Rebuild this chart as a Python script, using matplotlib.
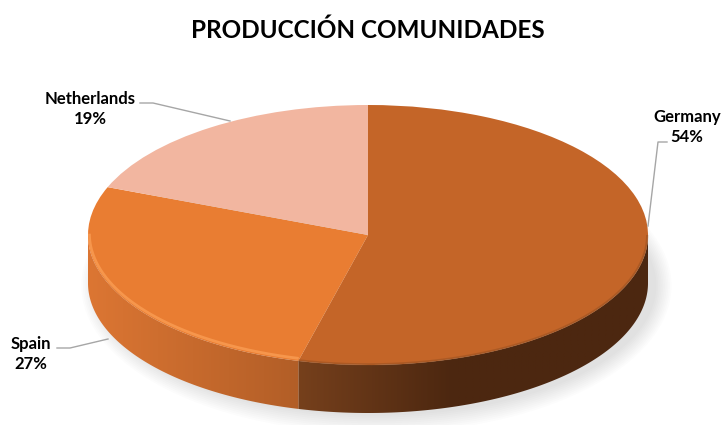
import numpy as np
import matplotlib
matplotlib.use("Agg")
import matplotlib.pyplot as plt
from matplotlib.patches import Polygon, Ellipse

# Production share by country
countries = ["Germany", "Spain", "Netherlands"]
shares = [54, 27, 19]
title = "PRODUCCIÓN COMUNIDADES"

top_colors = ["#C46528", "#E97D32", "#F2B6A0"]
side_light = ["#76401C", "#DC7633", "#E0A088"]
side_dark = ["#4C2710", "#B25E27", "#C08070"]

W, H = 722, 425
cx, cy, rx, ry, depth = 368, 235, 280, 130, 48

fig = plt.figure(figsize=(W / 100, H / 100), dpi=100)
ax = fig.add_axes([0, 0, 1, 1])


def px(x, y):
    """Figure pixel (from top-left) -> pie data coordinates."""
    return (x - cx) / rx, (cy - y) / ry


wedges, _ = ax.pie(shares, colors=top_colors, startangle=90, counterclock=False,
                   wedgeprops=dict(linewidth=0, zorder=5))

x0, x1 = -cx / rx, (W - cx) / rx
y0, y1 = -(H - cy) / ry, cy / ry
ax.set_aspect("auto")
ax.set_xlim(x0, x1)
ax.set_ylim(y0, y1)
ax.axis("off")

d = depth / ry

# soft shadow under the pie
for i in range(10):
    e = Ellipse((0.03, -d - 0.02), 2.0 + 0.012 * i, 2.0 + 0.03 * i,
                facecolor="#808080", alpha=0.025, edgecolor="none", zorder=1)
    ax.add_patch(e)


def rgb(c):
    return np.array(matplotlib.colors.to_rgb(c))


# visible front side of each slice, shaded with a horizontal gradient
for k, w in enumerate(wedges):
    t1, t2 = w.theta1, w.theta2
    for shift in (-360, 0, 360):
        a = max(t1 + shift, 180)
        b = min(t2 + shift, 360)
        if a >= b:
            continue
        th = np.radians(np.linspace(a, b, 300))
        xs = np.concatenate([np.cos(th), np.cos(th[::-1])])
        ys = np.concatenate([np.sin(th), np.sin(th[::-1]) - d])
        poly = Polygon(np.column_stack([xs, ys]), closed=True,
                       facecolor="none", edgecolor="none")
        ax.add_patch(poly)
        xl, xr = np.cos(th).min(), np.cos(th).max()
        span = 0.55 if k == 0 else (xr - xl)
        cols = np.linspace(xl, xr, 400)
        s = np.clip((cols - xl) / span, 0, 1)[None, :, None]
        img = rgb(side_light[k])[None, None, :] * (1 - s) + rgb(side_dark[k])[None, None, :] * s
        img = np.repeat(img, 2, axis=0)
        im = ax.imshow(img, extent=(xl, xr, ys.min(), ys.max()), aspect="auto",
                       interpolation="bilinear", zorder=3, origin="lower")
        im.set_clip_path(poly)
        # bevel along the top rim
        tt = np.linspace(th[0], th[-1], 300)
        if k == 1:
            ax.plot(np.cos(tt) * 0.995, np.sin(tt) * 0.99 + 0.01, color="#F8994F",
                    lw=2.0, alpha=0.9, zorder=6, solid_capstyle="butt")
        else:
            ax.plot(np.cos(tt) * 0.997, np.sin(tt) * 0.995, color="#8E4C20",
                    lw=1.6, alpha=0.45, zorder=6, solid_capstyle="butt")

fig.text(cx / W, 1 - 30 / H, title, ha="center", va="center",
         fontsize=17.5, fontweight="bold", family="Lato", color="#000000")

label_style = dict(fontsize=12, fontweight="bold", family="Lato",
                   ha="center", va="center", multialignment="center",
                   color="#000000", zorder=10)
line_col = "#A6A6A6"

labels = {
    "Netherlands": dict(text=(90, 109), path=[(140, 103), (153, 103), (230, 121)]),
    "Germany": dict(text=(687, 127), path=[(667, 142), (658, 142), (648, 226)]),
    "Spain": dict(text=(31, 354), path=[(57, 348), (70, 348), (108, 339)]),
}
for name, share in zip(countries, shares):
    info = labels[name]
    tx, ty = px(*info["text"])
    ax.text(tx, ty, f"{name}\n{share}%", linespacing=1.25, **label_style)
    pts = np.array([px(x, y) for x, y in info["path"]])
    ax.plot(pts[:, 0], pts[:, 1], color=line_col, lw=1.0, zorder=9)

fig.savefig("out.png", dpi=100, facecolor="white")
